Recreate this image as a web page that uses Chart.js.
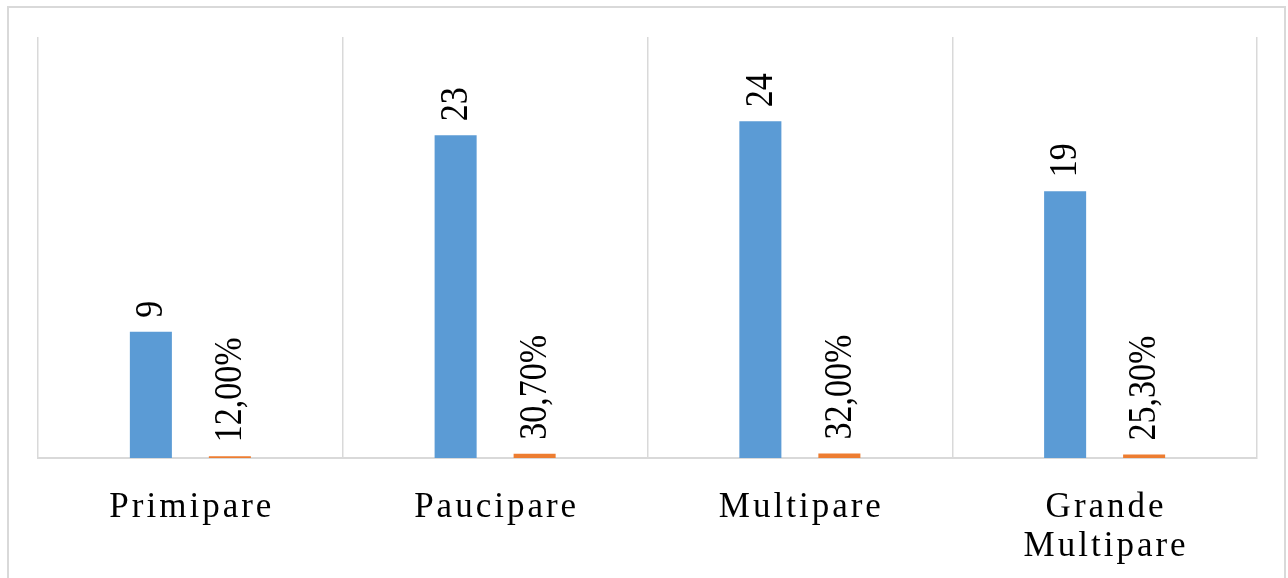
<!DOCTYPE html>
<html>
<head>
<meta charset="utf-8">
<style>
  html, body { margin: 0; padding: 0; background: #ffffff; }
  #wrap { width: 1288px; height: 578px; position: relative; }
</style>
<script src="https://cdn.jsdelivr.net/npm/chart.js@4.4.1/dist/chart.umd.min.js"></script>
</head>
<body>
<div id="wrap"><canvas id="chart" width="1288" height="578"></canvas></div>
<script>
// Parity groups and their counts / shares
const categories = [['Primipare'], ['Paucipare'], ['Multipare'], ['Grande', 'Multipare']];
const counts = [9, 23, 24, 19];
const percents = [12.00, 30.70, 32.00, 25.30];

const BLUE = '#5B9BD5';
const ORANGE = '#ED7D31';
const GRID = '#D9D9D9';
const SERIF = '"Liberation Serif", "Times New Roman", serif';
const STRETCH = 1.15; // horizontal widening of the rotated value labels

// Shares are drawn on the same axis as the counts (as fractions)
const shareValues = percents.map(p => p / 100);
const fmtPercent = p => p.toFixed(2).replace('.', ',') + '%';

const textPlugin = {
  id: 'textPlugin',
  beforeDraw(chart) {
    const ctx = chart.ctx;
    ctx.save();
    ctx.fillStyle = '#ffffff';
    ctx.fillRect(0, 0, chart.width, chart.height);
    // outer frame
    ctx.strokeStyle = GRID;
    ctx.lineWidth = 2;
    ctx.strokeRect(8, 7, 1277, 620);
    ctx.restore();
  },
  afterDraw(chart) {
    const ctx = chart.ctx;
    const xs = chart.scales.x;

    // category labels under the axis, letter-spaced
    ctx.save();
    ctx.fillStyle = '#000000';
    ctx.font = '35px ' + SERIF;
    ctx.letterSpacing = '3px';
    ctx.textAlign = 'center';
    ctx.textBaseline = 'alphabetic';
    categories.forEach((lines, i) => {
      const x = xs.getPixelForValue(i) + 1.5;
      lines.forEach((line, j) => {
        ctx.fillText(line, x, 517 + j * 39);
      });
    });
    ctx.restore();

    // rotated value labels above each bar
    const drawLabels = (dsIndex, texts) => {
      const meta = chart.getDatasetMeta(dsIndex);
      meta.data.forEach((bar, i) => {
        ctx.save();
        ctx.fillStyle = '#000000';
        ctx.font = '34px ' + SERIF;
        ctx.textAlign = 'left';
        ctx.textBaseline = 'middle';
        ctx.translate(bar.x + 1, bar.y - 14);
        ctx.rotate(-Math.PI / 2);
        ctx.scale(1, STRETCH);
        ctx.fillText(texts[i], 0, 0);
        ctx.restore();
      });
    };
    drawLabels(0, counts.map(String));
    drawLabels(1, percents.map(fmtPercent));
  }
};

new Chart(document.getElementById('chart'), {
  type: 'bar',
  data: {
    labels: categories.map(l => l.join(' ')),
    datasets: [
      {
        label: 'Effectif',
        data: counts,
        backgroundColor: BLUE,
        categoryPercentage: 0.5185,
        barPercentage: 0.532
      },
      {
        label: 'Pourcentage',
        data: shareValues,
        backgroundColor: ORANGE,
        categoryPercentage: 0.5185,
        barPercentage: 0.532
      }
    ]
  },
  options: {
    responsive: false,
    animation: false,
    devicePixelRatio: 1,
    layout: { padding: { left: 38, right: 31, top: 37, bottom: 120 } },
    plugins: {
      legend: { display: false },
      tooltip: { enabled: false }
    },
    scales: {
      x: {
        offset: true,
        grid: {
          display: true,
          offset: true,
          color: GRID,
          lineWidth: 1.5,
          drawTicks: false
        },
        border: { display: true, color: GRID, width: 2 },
        ticks: { display: false }
      },
      y: {
        display: false,
        min: 0,
        max: 30
      }
    }
  },
  plugins: [textPlugin]
});
</script>
</body>
</html>
